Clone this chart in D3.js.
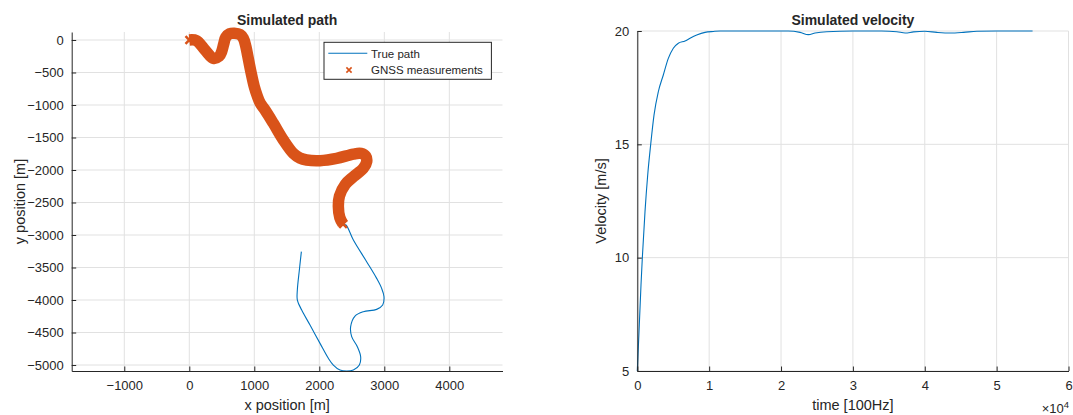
<!DOCTYPE html>
<html><head><meta charset="utf-8">
<script src="https://cdn.jsdelivr.net/npm/d3@7"></script>
<style>
body{margin:0;background:#fff}
text{font-family:"Liberation Sans",Arial,Helvetica,sans-serif;fill:#262626}
</style>
</head><body>
<svg id="c" width="1073" height="415"></svg>
<script>
// ---------- DATA ----------
// GNSS measured part of the path (x, y in metres)
const gnssX = [0,110,242,370,460,498,530,560,620,692,780,831,870,900,950,1000,1045,1090,1165,1293,1447,1600,1700,1806,2011,2267,2524,2640,2715,2729,2677,2524,2400,2310,2293,2315,2365];
const gnssY = [0,-10,-154,-282,-250,-179,-60,40,95,105,85,26,-100,-250,-500,-720,-860,-970,-1077,-1282,-1538,-1744,-1815,-1846,-1856,-1821,-1755,-1745,-1790,-1870,-1974,-2103,-2220,-2400,-2562,-2730,-2830];
// remaining true path after GNSS outage
const tailX = [2411,2524,2728,2882,2959,2995,2975,2882,2677,2549,2482,2498,2585,2636,2616,2524,2421,2318,2216,2139,2011,1857,1729,1662,1662,1693,1724];
const tailY = [-2846,-3077,-3410,-3667,-3821,-3949,-4077,-4144,-4179,-4246,-4410,-4564,-4718,-4872,-5000,-5077,-5092,-5077,-5000,-4897,-4667,-4385,-4154,-4000,-3846,-3538,-3256];
const truePathX = gnssX.concat(tailX);
const truePathY = gnssY.concat(tailY);

// velocity (time samples at 100 Hz, m/s)
const velT = [0,278,515,700,1072,1448,1865,2325,2924,3620,4316,5012,5708,6640,7337,8270,9425,10580,11513,14000,18000,21000,22650,23810,24740,26360,30000,34000,36110,37270,38430,40000,41680,43540,45400,47250,50000,55000];
const velV = [5,7.03,8.79,10.0,12.03,13.65,15.0,16.29,17.32,18.06,18.79,19.24,19.46,19.56,19.68,19.82,19.94,19.98,20,20,20,20,19.94,19.84,19.91,19.97,20,20,19.97,19.91,19.96,19.99,19.94,19.91,19.94,19.99,20,20];

const pathXTicks = [-1000,0,1000,2000,3000,4000];
const pathYTicks = [0,-500,-1000,-1500,-2000,-2500,-3000,-3500,-4000,-4500,-5000];
const velXTicks = [0,10000,20000,30000,40000,50000,60000];
const velYTicks = [5,10,15,20];
const legendLabels = ["True path","GNSS measurements"];

// ---------- STYLE ----------
const BLUE = "#0072BD", ORANGE = "#D95319", AX = "#262626", GRID = "#e1e1e1";
const svg = d3.select("#c");
const TL = 4.5;

function drawAxes(g, x, y, xt, yt) {
  const [x0, x1] = x.range(), [y0, y1] = y.range();
  g.append("g").selectAll("line").data(xt).join("line")
    .attr("x1", d => x(d)).attr("x2", d => x(d)).attr("y1", y0).attr("y2", y1)
    .attr("stroke", GRID).attr("stroke-width", 1);
  g.append("g").selectAll("line").data(yt).join("line")
    .attr("x1", x0).attr("x2", x1).attr("y1", d => y(d)).attr("y2", d => y(d))
    .attr("stroke", GRID).attr("stroke-width", 1);
}
function drawFrame(g, x, y, xt, yt, xfmt, yfmt) {
  const [x0, x1] = x.range(), [y0, y1] = y.range();
  const xa = d3.axisBottom(x).tickValues(xt).tickSizeInner(-TL).tickSizeOuter(0).tickPadding(10).tickFormat(xfmt);
  const gx = g.append("g").attr("transform", `translate(0,${y0})`).call(xa);
  const ya = d3.axisLeft(y).tickValues(yt).tickSizeInner(-TL).tickSizeOuter(0).tickPadding(8).tickFormat(yfmt);
  const gy = g.append("g").attr("transform", `translate(${x0},0)`).call(ya);
  [gx, gy].forEach(a => {
    a.select(".domain").attr("stroke", AX).attr("stroke-width", 1);
    a.selectAll(".tick line").attr("stroke", AX);
    a.selectAll(".tick text").attr("fill", AX).style("font-size", "13px")
      .style("font-family", '"Liberation Sans",Arial,sans-serif');
  });
}

// ---------- LEFT: Simulated path ----------
{
  const x = d3.scaleLinear().domain([-1809, 4818]).range([71.7, 502.5]);
  const y = d3.scaleLinear().domain([-5092, 123]).range([371, 32]);
  const g = svg.append("g");
  drawAxes(g, x, y, pathXTicks, pathYTicks);
  const line = d3.line().x(d => x(d[0])).y(d => y(d[1])).curve(d3.curveCatmullRom.alpha(0.5));
  const trueData = truePathX.map((v, i) => [v, truePathY[i]]);
  const gnssData = gnssX.map((v, i) => [v, gnssY[i]]);
  g.append("path").attr("d", line(trueData)).attr("fill", "none")
    .attr("stroke", BLUE).attr("stroke-width", 1.1);
  g.append("path").attr("d", line(gnssData)).attr("fill", "none")
    .attr("stroke", ORANGE).attr("stroke-width", 11.5).attr("stroke-linejoin", "round");
  const xs = 3.8;
  g.append("g").selectAll("path").data([gnssData[0], gnssData[gnssData.length - 1]]).join("path")
    .attr("transform", d => `translate(${x(d[0])},${y(d[1])})`)
    .attr("d", `M${-xs},${-xs}L${xs},${xs}M${-xs},${xs}L${xs},${-xs}`)
    .attr("stroke", ORANGE).attr("stroke-width", 2.5);
  drawFrame(g, x, y, pathXTicks, pathYTicks, d3.format("d"), d3.format("d"));
  const cx = (x.range()[0] + x.range()[1]) / 2;
  g.append("text").attr("x", cx).attr("y", 25).attr("text-anchor", "middle")
    .style("font-size", "14px").style("font-weight", "bold").attr("fill", "#000").text("Simulated path");
  g.append("text").attr("x", cx).attr("y", 410).attr("text-anchor", "middle")
    .style("font-size", "14.5px").text("x position [m]");
  g.append("text").attr("transform", `translate(25,${(32 + 371) / 2}) rotate(-90)`).attr("text-anchor", "middle")
    .style("font-size", "14.5px").text("y position [m]");

  // legend
  const lg = g.append("g");
  lg.append("rect").attr("x", 324).attr("y", 42.3).attr("width", 167.4).attr("height", 37)
    .attr("fill", "#fff").attr("stroke", AX).attr("stroke-width", 1);
  lg.append("line").attr("x1", 328.3).attr("x2", 367.3).attr("y1", 53.3).attr("y2", 53.3)
    .attr("stroke", BLUE).attr("stroke-width", 1.1);
  const ms = 2.6;
  lg.append("path").attr("transform", "translate(349,70)")
    .attr("d", `M${-ms},${-ms}L${ms},${ms}M${-ms},${ms}L${ms},${-ms}`)
    .attr("stroke", ORANGE).attr("stroke-width", 1.6);
  lg.selectAll("text").data(legendLabels).join("text")
    .attr("x", 371).attr("y", (d, i) => 57.5 + i * 16.5)
    .style("font-size", "11.5px").attr("fill", "#000").text(d => d);
}

// ---------- RIGHT: Simulated velocity ----------
{
  const x = d3.scaleLinear().domain([0, 60000]).range([637.3, 1068.5]);
  const y = d3.scaleLinear().domain([5, 20]).range([371, 31]);
  const g = svg.append("g");
  drawAxes(g, x, y, velXTicks, velYTicks);
  const line = d3.line().x(d => x(d[0])).y(d => y(d[1])).curve(d3.curveMonotoneX);
  g.append("path").attr("d", line(velT.map((t, i) => [t, velV[i]]))).attr("fill", "none")
    .attr("stroke", BLUE).attr("stroke-width", 1.1);
  drawFrame(g, x, y, velXTicks, velYTicks, d => d / 10000, d3.format("d"));
  const cx = (x.range()[0] + x.range()[1]) / 2;
  g.append("text").attr("x", cx).attr("y", 25).attr("text-anchor", "middle")
    .style("font-size", "14px").style("font-weight", "bold").attr("fill", "#000").text("Simulated velocity");
  g.append("text").attr("x", cx).attr("y", 410).attr("text-anchor", "middle")
    .style("font-size", "14.5px").text("time [100Hz]");
  g.append("text").attr("transform", `translate(606,${(31 + 371) / 2}) rotate(-90)`).attr("text-anchor", "middle")
    .style("font-size", "14.5px").text("Velocity [m/s]");
  const ex = g.append("text").attr("x", 1069).attr("y", 413).attr("text-anchor", "end").style("font-size", "13px");
  ex.append("tspan").text("×10");
  ex.append("tspan").attr("dy", -5).style("font-size", "9.5px").text("4");
}
</script>
</body></html>
